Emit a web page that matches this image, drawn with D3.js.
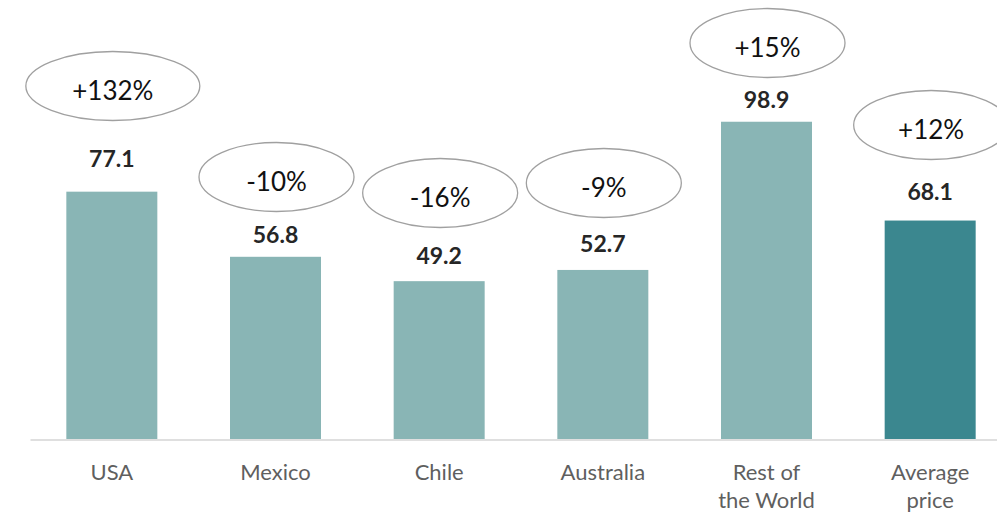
<!DOCTYPE html>
<html>
<head>
<meta charset="utf-8">
<script src="https://cdn.jsdelivr.net/npm/d3@7/dist/d3.min.js"></script>
<style>
  html, body { margin: 0; padding: 0; background: #ffffff; }
  svg { display: block; }
</style>
</head>
<body>
<svg id="chart" width="997" height="514"></svg>
<script>
// Categories (multi-line labels split on "\n")
const categories = ["USA", "Mexico", "Chile", "Australia", "Rest of\nthe World", "Average\nprice"];
// Price per category
const values = [77.1, 56.8, 49.2, 52.7, 98.9, 68.1];
// Change callouts shown in the ellipses
const changes = ["+132%", "-10%", "-16%", "-9%", "+15%", "+12%"];
// Which bar is the highlighted aggregate
const highlight = [false, false, false, false, false, true];

// Callout layout: ellipse centre heights and value-label gaps above each bar
const calloutY = [86, 177, 193, 183, 43, 125];
const labelGap = [25, 14, 17, 18, 14, 21];

const width = 997, height = 514;
const baseY = 439;

const svg = d3.select("#chart");

const x = d3.scaleBand()
  .domain(categories)
  .range([30, 1012])
  .paddingInner(0.444)
  .paddingOuter(0.222);

const y = d3.scaleLinear()
  .domain([0, 136.85])
  .range([baseY, 0]);

const rows = categories.map((c, i) => ({
  cat: c, value: values[i], change: changes[i], hi: highlight[i],
  cy: calloutY[i], gap: labelGap[i]
}));

// Bars
svg.append("g").selectAll("rect")
  .data(rows)
  .join("rect")
  .attr("x", d => x(d.cat))
  .attr("y", d => y(d.value))
  .attr("width", x.bandwidth())
  .attr("height", d => baseY - y(d.value))
  .attr("fill", d => d.hi ? "#3b878f" : "#89b5b5");

// Baseline axis
const axis = svg.append("g")
  .attr("transform", `translate(0,${baseY + 0.5})`)
  .call(d3.axisBottom(x).tickSize(0).tickFormat(""));
axis.select(".domain").attr("stroke", "#d4d4d4").attr("stroke-width", 1.5);

// Category labels (two lines where needed)
const catText = svg.append("g").selectAll("text")
  .data(rows)
  .join("text")
  .attr("x", d => x(d.cat) + x.bandwidth() / 2)
  .attr("y", 480)
  .attr("text-anchor", "middle")
  .attr("font-family", "Lato, 'Open Sans', sans-serif")
  .attr("font-size", 22)
  .attr("fill", "#5f5f5f");
catText.each(function(d) {
  const lines = d.cat.split("\n");
  d3.select(this).selectAll("tspan")
    .data(lines)
    .join("tspan")
    .attr("x", x(d.cat) + x.bandwidth() / 2)
    .attr("dy", (l, i) => i === 0 ? 0 : 28)
    .text(l => l);
});

// Value labels
svg.append("g").selectAll("text")
  .data(rows)
  .join("text")
  .attr("x", d => x(d.cat) + x.bandwidth() / 2)
  .attr("y", d => y(d.value) - d.gap)
  .attr("text-anchor", "middle")
  .attr("font-family", "Lato, 'Open Sans', sans-serif")
  .attr("font-weight", "bold")
  .attr("font-size", 23)
  .attr("fill", "#262626")
  .text(d => d.value.toFixed(1));

// Change callouts in ellipses
const callouts = svg.append("g").selectAll("g")
  .data(rows)
  .join("g")
  .attr("transform", d => `translate(${x(d.cat) + x.bandwidth() / 2 + 1},${d.cy})`);

callouts.append("ellipse")
  .attr("rx", (d, i) => i === 0 ? 87 : 77.5)
  .attr("ry", 34.5)
  .attr("fill", "#ffffff")
  .attr("stroke", "#a0a0a0")
  .attr("stroke-width", 1.3);

callouts.append("text")
  .attr("y", 14)
  .attr("text-anchor", "middle")
  .attr("font-family", "Lato, 'Open Sans', sans-serif")
  .attr("font-size", 26)
  .attr("fill", "#111111")
  .text(d => d.change);
</script>
</body>
</html>
